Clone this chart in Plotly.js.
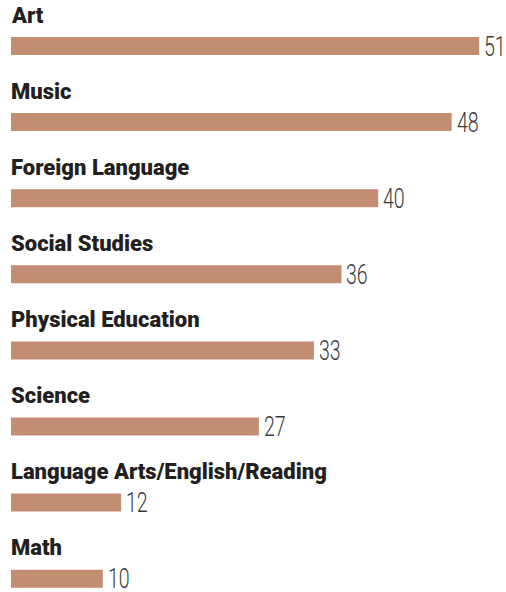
<!DOCTYPE html>
<html><head><meta charset="utf-8">
<script src="https://cdn.plot.ly/plotly-3.0.1.min.js"></script>
<style>html,body{margin:0;padding:0;background:#fff}#chart{width:506px;height:592px}</style>
</head><body><div id="chart"></div>
<script>
const categories = ["Art","Music","Foreign Language","Social Studies","Physical Education","Science","Language Arts/English/Reading","Math"];
const values = [51,48,40,36,33,27,12,10];

const idx = categories.map((c,i)=>i);
const trace = {
  type:'bar', orientation:'h', x: values, y: idx,
  width: 0.2365,
  marker:{color:'#c38d74'},
  hoverinfo:'none'
};
const labelAnns = categories.map((c,i)=>({
  xref:'paper', x:0, xanchor:'left', xshift:-2, yref:'y', y:i, yanchor:'middle', yshift:31,
  text:c, showarrow:false,
  font:{family:'Roboto, "Liberation Sans", sans-serif', size:22, color:'#231f20', weight:900}
}));
const valueAnns = values.map((v,i)=>({
  xref:'x', x:v, xanchor:'left', xshift:3, yref:'y', y:i, yanchor:'middle', yshift:0,
  text:String(v), showarrow:false,
  font:{family:'Roboto, "Liberation Sans", sans-serif', size:28, color:'#3a3a3a', weight:300}
}));
const layout = {
  width:506, height:592, margin:{l:11,r:0,t:0,b:0},
  paper_bgcolor:'#fff', plot_bgcolor:'#fff', showlegend:false,
  xaxis:{range:[0,53.92], visible:false, fixedrange:true},
  yaxis:{range:[7.175,-0.6045], visible:false, fixedrange:true},
  annotations: labelAnns.concat(valueAnns)
};
Plotly.newPlot('chart',[trace],layout,{displayModeBar:false,staticPlot:true}).then(()=>{
  const els = document.querySelectorAll('#chart .annotation-text');
  els.forEach((el,k)=>{
    if (k < categories.length) return;
    el.style.transformBox = 'fill-box';
    el.style.transformOrigin = 'left center';
    el.style.transform = 'scaleX(0.7)';
  });
});
</script></body></html>
